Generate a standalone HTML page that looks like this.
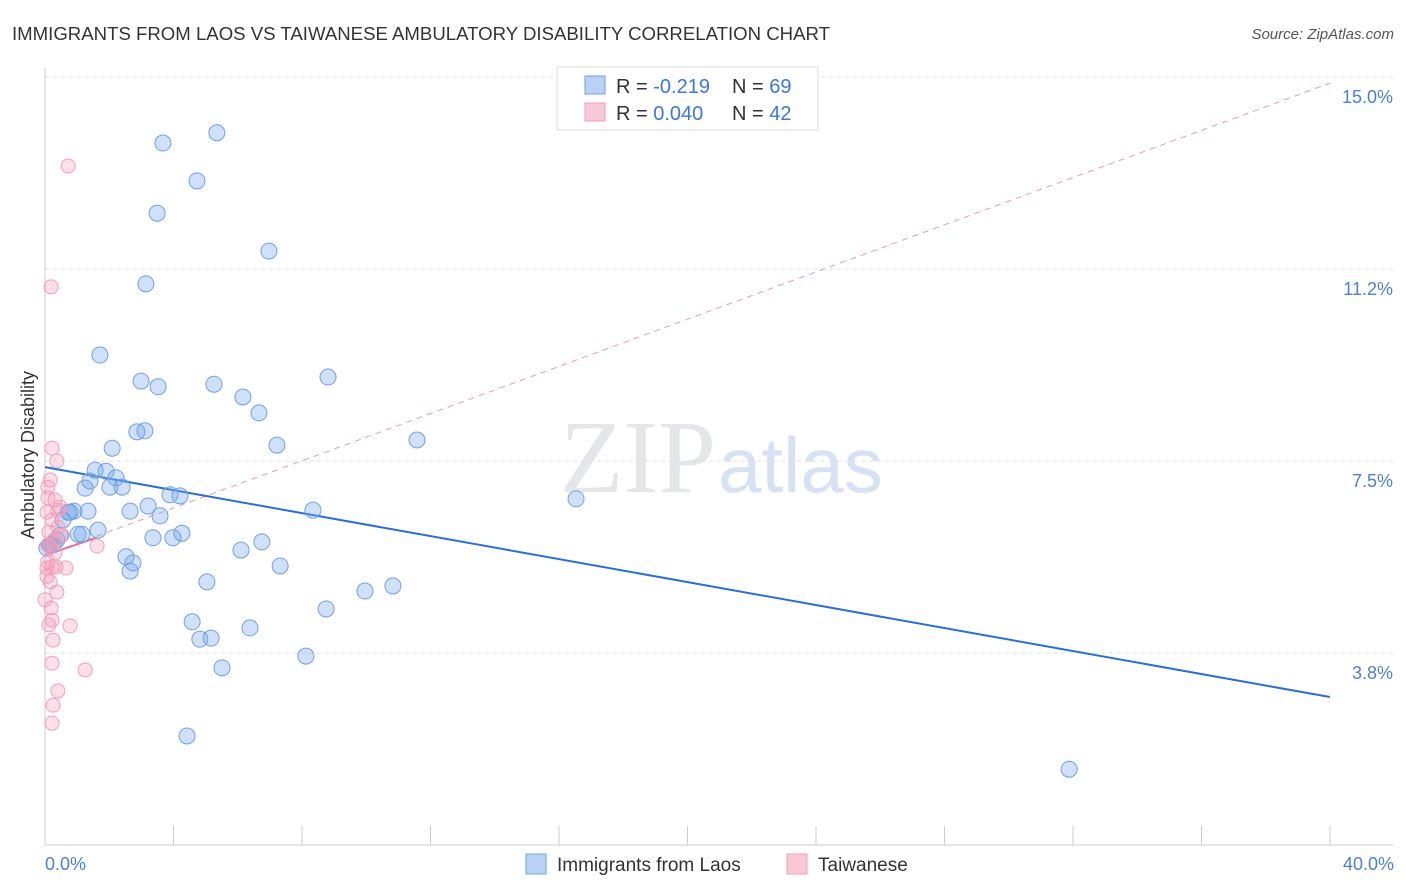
<!DOCTYPE html>
<html><head><meta charset="utf-8"><style>
body{margin:0;background:#fff;font-family:"Liberation Sans",sans-serif;}
svg{display:block}
</style></head><body>
<svg id="chart" width="1406" height="892">
<text x="12" y="40" font-size="18" fill="#333" textLength="818" lengthAdjust="spacingAndGlyphs">IMMIGRANTS FROM LAOS VS TAIWANESE AMBULATORY DISABILITY CORRELATION CHART</text>
<text x="1394" y="39" font-size="15" fill="#555" font-style="italic" text-anchor="end">Source: ZipAtlas.com</text>
<text x="716" y="492" font-size="104" fill="#e4e6ea" text-anchor="end" font-family="Liberation Serif,serif">ZIP</text>
<text x="718" y="492" font-size="78" fill="#d6e2f4">atlas</text>
<text x="34" y="455" font-size="18" fill="#333" text-anchor="middle" transform="rotate(-90 34 455)">Ambulatory Disability</text>
<g id="grid"></g><g id="axes"></g><g id="lines"></g><g id="pts"></g>
<g>
<rect x="557" y="67" width="261" height="63" fill="#fff" stroke="#ddd"/>
<rect x="585" y="76" width="20" height="18" fill="#b9d1f5" stroke="#6fa0e8"/>
<text x="616" y="93" font-size="20" fill="#333">R = <tspan fill="#3b78d8">-0.219</tspan></text>
<text x="732" y="93" font-size="20" fill="#333">N = <tspan fill="#3b78d8">69</tspan></text>
<rect x="585" y="103" width="20" height="18" fill="#f9c8d6" stroke="#f0a0b8"/>
<text x="616" y="120" font-size="20" fill="#333">R = <tspan fill="#3b78d8">0.040</tspan></text>
<text x="732" y="120" font-size="20" fill="#333">N = <tspan fill="#3b78d8">42</tspan></text>
</g>
<rect x="526" y="854" width="20" height="20" fill="#b9d1f5" stroke="#6fa0e8"/>
<text x="557" y="871" font-size="19" fill="#333">Immigrants from Laos</text>
<rect x="787" y="854" width="20" height="20" fill="#f9c8d6" stroke="#f0a0b8"/>
<text x="818" y="871" font-size="19" fill="#333">Taiwanese</text>
<text x="45" y="870" font-size="18" fill="#4a80d8">0.0%</text>
<text x="1394" y="870" font-size="18" fill="#4a80d8" text-anchor="end">40.0%</text>
</svg>
<script>
const blueX=[3.67,5.35,4.73,3.49,6.97,3.14,1.71,2.99,3.52,5.26,6.16,6.66,8.81,2.86,3.11,2.09,7.22,11.58,1.56,1.90,1.40,2.21,2.02,2.40,1.25,2.65,3.21,3.89,4.20,3.58,0.90,1.34,0.72,0.56,0.37,0.25,1.03,1.65,1.15,3.36,3.98,4.26,6.10,6.75,2.52,2.74,2.65,7.32,5.04,8.34,16.53,9.96,10.83,8.75,4.58,6.38,4.82,5.17,5.51,8.12,4.42,31.88,0.16,0.06,0.47,0.78];
const blueY=[13.71,13.91,12.97,12.34,11.60,10.96,9.57,9.06,8.95,9.00,8.75,8.44,9.14,8.07,8.09,7.75,7.81,7.91,7.32,7.30,7.11,7.17,6.99,6.99,6.97,6.52,6.62,6.84,6.82,6.43,6.52,6.52,6.50,6.35,5.96,5.86,6.07,6.15,6.07,6.00,6.00,6.09,5.76,5.92,5.63,5.51,5.35,5.45,5.14,6.54,6.76,4.96,5.06,4.61,4.36,4.24,4.02,4.04,3.46,3.69,2.13,1.48,5.86,5.80,6.05,6.50];
const pinkX=[0.72,0.19,0.22,0.37,0.16,0.09,0.31,0.47,0.06,0.22,0.40,0.12,0.53,1.62,0.16,0.31,0.09,0.22,0.34,0.65,0.06,0.16,0.37,0.00,0.19,0.22,0.12,0.78,0.25,0.22,1.25,0.40,0.25,0.22,0.40,0.09,0.28,0.06,0.09];
const pinkY=[13.26,10.90,7.75,7.50,7.13,6.99,6.74,6.60,6.50,6.35,6.21,6.11,6.05,5.84,5.82,5.70,5.53,5.43,5.43,5.41,5.25,5.14,4.94,4.79,4.63,4.39,4.30,4.28,4.00,3.55,3.42,3.01,2.73,2.38,6.54,5.86,5.96,5.41,6.78];
const yTicks=[15.0,11.25,7.5,3.75];
const yTickLabels=["15.0%","11.2%","7.5%","3.8%"];
const blueTrend=[7.38,2.89];
const pinkTrend=[5.66,14.88];
const pinkSolidEnd=[1.6,6.0];
const NS="http://www.w3.org/2000/svg";
const sx=v=>45+v/40*1285, sy=v=>845-v*51.2;
function mk(tag,attrs,parent){const e=document.createElementNS(NS,tag);for(const k in attrs)e.setAttribute(k,attrs[k]);document.getElementById(parent).appendChild(e);return e;}
yTicks.forEach((t,i)=>{
 const g=mk('line',{x1:45,x2:1393,y1:sy(t),y2:sy(t),stroke:'#ddd','stroke-dasharray':'4,4'},'grid');
 
 
 const l=mk('text',{x:1393,y:sy(t)+26,'font-size':18,fill:'#4a80d8','text-anchor':'end'},'grid');
 l.textContent=yTickLabels[i];
 
 
});
const ya=mk('line',{x1:45,x2:45,y1:68,y2:845,stroke:'#ccc'},'axes');


const xa=mk('line',{x1:45,x2:1393,y1:845,y2:845,stroke:'#ccc'},'axes');


for(let i=0;i<=10;i++){
 const t=mk('line',{x1:sx(i*4),x2:sx(i*4),y1:826,y2:845,stroke:'#ccc'},'axes');
 
 
}
const pd=mk('line',{x1:sx(0),y1:sy(pinkTrend[0]),x2:sx(40),y2:sy(pinkTrend[1]),stroke:'#e89ab2','stroke-width':1,'stroke-dasharray':'6,5'},'lines');


const ps=mk('line',{x1:sx(0),y1:sy(pinkTrend[0]),x2:sx(pinkSolidEnd[0]),y2:sy(pinkSolidEnd[1]),stroke:'#e8709a','stroke-width':2},'lines');


const bl=mk('line',{x1:sx(0),y1:sy(blueTrend[0]),x2:sx(40),y2:sy(blueTrend[1]),stroke:'#2a6fd6','stroke-width':2},'lines');


blueX.forEach((x,i)=>{
 const c=mk('circle',{cx:sx(x),cy:sy(blueY[i]),r:8,fill:'rgba(120,165,235,0.35)',stroke:'#6fa0e8','stroke-width':1},'pts');
 
 
});
pinkX.forEach((x,i)=>{
 const c=mk('circle',{cx:sx(x),cy:sy(pinkY[i]),r:7,fill:'rgba(245,150,180,0.3)',stroke:'#f0a0b8','stroke-width':1},'pts');
 
 
});
</script>
</body></html>
